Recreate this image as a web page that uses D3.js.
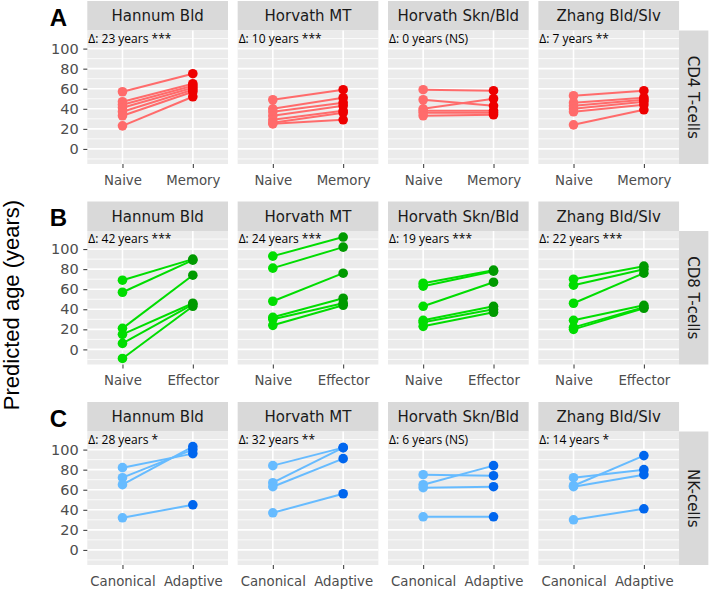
<!DOCTYPE html>
<html>
<head>
<meta charset="utf-8">
<script src="https://cdn.jsdelivr.net/npm/d3@7"></script>
<style>
  body { margin: 0; background: #fff; }
  svg { display: block; }
</style>
</head>
<body>
<div id="chart"></div>
<script>
// facet labels
var rowLetters = ['A', 'B', 'C'];
var cellTypes = ['CD4 T-cells', 'CD8 T-cells', 'NK-cells'];
var clocks = ['Hannum Bld', 'Horvath MT', 'Horvath Skn/Bld', 'Zhang Bld/Slv'];
var groupLevels = [['Naive', 'Memory'], ['Naive', 'Effector'], ['Canonical', 'Adaptive']];
var yTicks = [0, 20, 40, 60, 80, 100];

var deltaLabels = [
  ['Δ: 23 years ***', 'Δ: 10 years ***', 'Δ: 0 years (NS)', 'Δ: 7 years **'],
  ['Δ: 42 years ***', 'Δ: 24 years ***', 'Δ: 19 years ***', 'Δ: 22 years ***'],
  ['Δ: 28 years *', 'Δ: 32 years **', 'Δ: 6 years (NS)', 'Δ: 14 years *']
];

// predicted ages, one list per clock, paired by position
var cd4Naive = [
  [57, 47, 44, 41, 37, 33, 23],
  [49, 40, 37, 33, 29, 26, 25],
  [59, 49, 40, 38, 36, 33],
  [53, 46, 43, 40, 37, 24]
];
var cd4Memory = [
  [75, 65, 63, 61, 59, 57, 52],
  [59, 51, 46, 43, 38, 36, 29],
  [58, 43, 50, 38, 36, 34],
  [58, 51, 49, 47, 44, 39]
];
var cd8Naive = [
  [69, 57, 21, 15, 6, -9],
  [93, 81, 48, 32, 30, 24],
  [66, 63, 43, 29, 27, 23],
  [70, 64, 46, 29, 22, 20]
];
var cd8Effector = [
  [90, 89, 74, 46, 45, 43],
  [112, 102, 76, 51, 46, 44],
  [79, 78, 67, 43, 40, 37],
  [83, 80, 76, 44, 42, 41]
];
var nkCanonical = [
  [82, 72, 65, 32],
  [84, 67, 63, 37],
  [75, 65, 62, 33],
  [72, 64, 63, 30]
];
var nkAdaptive = [
  [96, 100, 103, 45],
  [102, 102, 91, 56],
  [74, 84, 63, 33],
  [80, 94, 75, 41]
];

var firstVals = [cd4Naive, cd8Naive, nkCanonical];
var secondVals = [cd4Memory, cd8Effector, nkAdaptive];

var lightCol = ['#FF6B6B', '#00DD00', '#66BBFF'];
var darkCol = ['#EE0000', '#009A00', '#0066EE'];

var width = 709, height = 589;
var left0 = 87.3, pw = 140.7, colStep = 150.35;
var top0 = 1, stripH = 29.5, ph = 133.5, rowStep = 200.5;

var svg = d3.select('#chart').append('svg')
  .attr('width', width)
  .attr('height', height);

// shared y scale with ggplot-like 5% expansion
var allVals = [];
[firstVals, secondVals].forEach(function(s) {
  s.forEach(function(r) { r.forEach(function(c) { allVals = allVals.concat(c); }); });
});
var ext = d3.extent(allVals);
var pad = (ext[1] - ext[0]) * 0.05;
var y = d3.scaleLinear().domain([ext[0] - pad, ext[1] + pad]).range([ph, 0]);

var step = yTicks[1] - yTicks[0];
var minor = [yTicks[0] - step / 2];
yTicks.forEach(function(t) { minor.push(t + step / 2); });
minor = minor.filter(function(v) { return v > y.domain()[0] && v < y.domain()[1]; });

rowLetters.forEach(function(letter, r) {
  var rowTop = top0 + r * rowStep;
  var panelTop = rowTop + stripH;

  var x = d3.scalePoint().domain(groupLevels[r]).range([0, pw]).padding(0.5);

  clocks.forEach(function(clock, c) {
    var left = left0 + c * colStep;

    // strip
    svg.append('rect')
      .attr('x', left).attr('y', rowTop)
      .attr('width', pw).attr('height', stripH)
      .attr('fill', '#D9D9D9');
    svg.append('text')
      .attr('x', left + pw / 2).attr('y', rowTop + stripH / 2 + 5.5)
      .attr('text-anchor', 'middle')
      .attr('font-family', 'DejaVu Sans')
      .attr('font-size', 15)
      .attr('fill', '#1A1A1A')
      .text(clock);

    var g = svg.append('g')
      .attr('transform', 'translate(' + left + ',' + panelTop + ')');

    g.append('rect')
      .attr('width', pw).attr('height', ph)
      .attr('fill', '#EBEBEB');

    g.selectAll('.minor')
      .data(minor)
      .enter().append('line')
      .attr('x1', 0).attr('x2', pw)
      .attr('y1', function(d) { return y(d); })
      .attr('y2', function(d) { return y(d); })
      .attr('stroke', '#fff').attr('stroke-width', 0.8);

    g.selectAll('.major')
      .data(yTicks)
      .enter().append('line')
      .attr('x1', 0).attr('x2', pw)
      .attr('y1', function(d) { return y(d); })
      .attr('y2', function(d) { return y(d); })
      .attr('stroke', '#fff').attr('stroke-width', 1.6);

    g.selectAll('.vmajor')
      .data(groupLevels[r])
      .enter().append('line')
      .attr('y1', 0).attr('y2', ph)
      .attr('x1', function(d) { return x(d); })
      .attr('x2', function(d) { return x(d); })
      .attr('stroke', '#fff').attr('stroke-width', 1.6);

    var a = firstVals[r][c], b = secondVals[r][c];
    var pairs = a.map(function(v, i) { return [v, b[i]]; });

    g.selectAll('.pair')
      .data(pairs)
      .enter().append('line')
      .attr('x1', x(groupLevels[r][0]))
      .attr('x2', x(groupLevels[r][1]))
      .attr('y1', function(d) { return y(d[0]); })
      .attr('y2', function(d) { return y(d[1]); })
      .attr('stroke', lightCol[r])
      .attr('stroke-width', 2);

    g.selectAll('.p1')
      .data(a)
      .enter().append('circle')
      .attr('cx', x(groupLevels[r][0]))
      .attr('cy', function(d) { return y(d); })
      .attr('r', 4.8)
      .attr('fill', lightCol[r]);

    g.selectAll('.p2')
      .data(b)
      .enter().append('circle')
      .attr('cx', x(groupLevels[r][1]))
      .attr('cy', function(d) { return y(d); })
      .attr('r', 4.8)
      .attr('fill', darkCol[r]);

    g.append('text')
      .attr('x', 1).attr('y', 12)
      .attr('font-family', 'Open Sans')
      .attr('font-size', 12)
      .attr('fill', '#000')
      .text(deltaLabels[r][c]);

    var xa = g.append('g')
      .attr('transform', 'translate(0,' + ph + ')')
      .call(d3.axisBottom(x).tickSize(4).tickPadding(7.5));
    xa.select('.domain').remove();
    xa.selectAll('line').attr('stroke', '#333');
    xa.selectAll('text')
      .attr('font-family', 'DejaVu Sans')
      .attr('font-size', 13.3)
      .attr('fill', '#4D4D4D');

    if (c === 0) {
      var ya = g.append('g')
        .call(d3.axisLeft(y).tickValues(yTicks).tickSize(4).tickPadding(4.5));
      ya.select('.domain').remove();
      ya.selectAll('line').attr('stroke', '#333');
      ya.selectAll('text')
        .attr('font-family', 'DejaVu Sans')
        .attr('font-size', 14.5)
        .attr('fill', '#4D4D4D');
    }
  });

  // right strip
  var sx = left0 + 3 * colStep + pw;
  svg.append('rect')
    .attr('x', sx).attr('y', panelTop)
    .attr('width', 29.3).attr('height', ph)
    .attr('fill', '#D9D9D9');
  svg.append('text')
    .attr('transform', 'translate(' + (sx + 14.65 - 5.5) + ',' + (panelTop + ph / 2) + ') rotate(90)')
    .attr('text-anchor', 'middle')
    .attr('font-family', 'DejaVu Sans')
    .attr('font-size', 15)
    .attr('fill', '#1A1A1A')
    .text(cellTypes[r]);

  // panel letter
  svg.append('text')
    .attr('x', 58.3).attr('y', rowTop + 24.5)
    .attr('text-anchor', 'middle')
    .attr('font-family', 'Liberation Sans')
    .attr('font-weight', 'bold')
    .attr('font-size', 24)
    .attr('fill', '#000')
    .text(letter);
});

svg.append('text')
  .attr('transform', 'translate(18.5,305) rotate(-90)')
  .attr('text-anchor', 'middle')
  .attr('font-family', 'Liberation Sans')
  .attr('font-size', 22)
  .attr('fill', '#000')
  .text('Predicted age (years)');
</script>
</body>
</html>
